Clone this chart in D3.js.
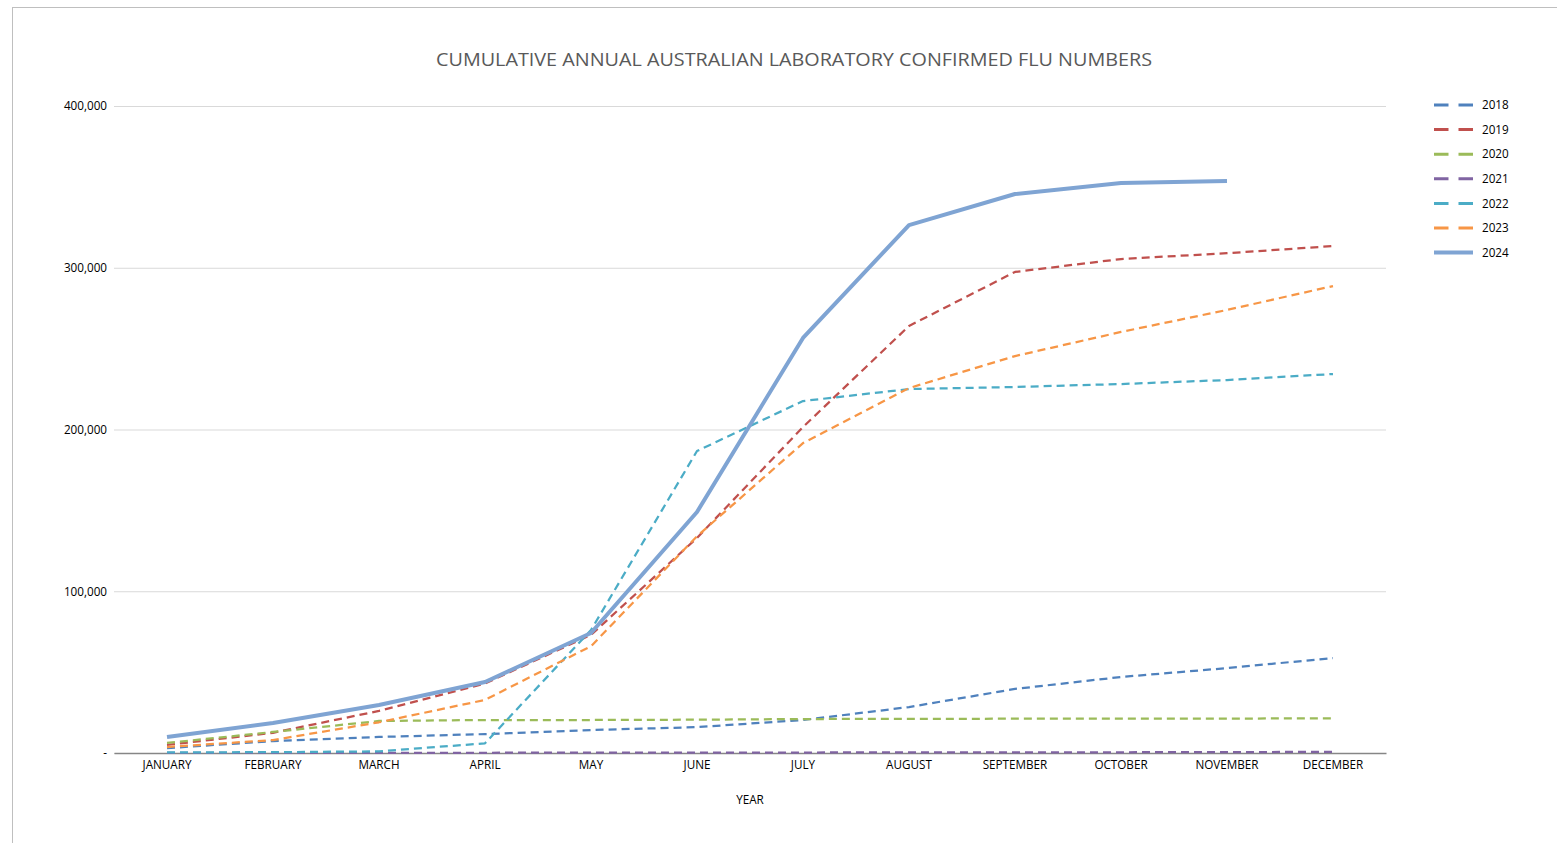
<!DOCTYPE html>
<html>
<head>
<meta charset="utf-8">
<script src="https://cdn.jsdelivr.net/npm/d3@7"></script>
<style>
  body { margin: 0; background: #fff; }
  svg { display: block; }
</style>
</head>
<body>
<script>
// months on the x axis
const months = ["JANUARY", "FEBRUARY", "MARCH", "APRIL", "MAY", "JUNE", "JULY",
  "AUGUST", "SEPTEMBER", "OCTOBER", "NOVEMBER", "DECEMBER"];

// cumulative counts
const y2018 = [3000, 7400, 9900, 11700, 14200, 16000, 20400, 28400, 39600, 47000, 52500, 58700];
const y2019 = [5000, 12500, 26000, 43000, 73000, 133000, 201500, 264000, 297400, 305400, 309000, 313400];
const y2020 = [6200, 13000, 19800, 20400, 20400, 20600, 21000, 21100, 21200, 21300, 21300, 21400];
const y2021 = [50, 80, 100, 150, 200, 250, 300, 350, 400, 450, 550, 700];
const y2022 = [400, 500, 1000, 6000, 76000, 186700, 217600, 225000, 226300, 228100, 230600, 234300];
const y2023 = [3700, 8000, 19000, 32800, 66000, 134000, 191600, 225600, 245400, 260300, 273900, 288700];
const y2024 = [9900, 18500, 29700, 43900, 74200, 149000, 256600, 326400, 345600, 352400, 353600];

const yTicks = [0, 100000, 200000, 300000, 400000];

const series = [
  { name: "2018", values: y2018, color: "#4F81BD", dash: true },
  { name: "2019", values: y2019, color: "#C0504D", dash: true },
  { name: "2020", values: y2020, color: "#9BBB59", dash: true },
  { name: "2021", values: y2021, color: "#8064A2", dash: true },
  { name: "2022", values: y2022, color: "#4BACC6", dash: true },
  { name: "2023", values: y2023, color: "#F79646", dash: true },
  { name: "2024", values: y2024, color: "#7FA4D3", dash: false }
];

const W = 1557, H = 843;
const margin = { top: 106, left: 114, right: 171, bottom: 90 };
const width = W - margin.left - margin.right,
  height = H - margin.top - margin.bottom;
const font = "'Open Sans', sans-serif";

const svg = d3.select("body").append("svg")
  .attr("width", W)
  .attr("height", H);

// outer chart frame (runs off the right and bottom edges)
svg.append("rect")
  .attr("x", 12.5).attr("y", 7.5)
  .attr("width", W).attr("height", 900)
  .attr("fill", "none")
  .attr("stroke", "#bfbfbf");

svg.append("text")
  .attr("x", 794).attr("y", 66)
  .attr("text-anchor", "middle")
  .style("font-family", font)
  .style("font-size", "18px")
  .attr("textLength", 716)
  .attr("lengthAdjust", "spacingAndGlyphs")
  .style("fill", "#595959")
  .text("CUMULATIVE ANNUAL AUSTRALIAN LABORATORY CONFIRMED FLU NUMBERS");

const g = svg.append("g")
  .attr("transform", "translate(" + margin.left + "," + margin.top + ")");

const x = d3.scaleBand()
  .domain(months)
  .range([0, width]);

const y = d3.scaleLinear()
  .domain([0, 400000])
  .range([height, 0]);

// gridlines + y labels
const yAxis = g.append("g")
  .call(d3.axisLeft(y)
    .tickValues(yTicks)
    .tickSize(-width)
    .tickPadding(7)
    .tickFormat(d => d === 0 ? "-" : d3.format(",")(d)));
yAxis.select(".domain").remove();
yAxis.selectAll(".tick line").attr("stroke", "#d9d9d9").attr("stroke-width", 1);
yAxis.selectAll(".tick text")
  .style("font-family", font)
  .style("font-size", "11.7px")
  .style("fill", "#000");

// x axis
const xAxis = g.append("g")
  .attr("transform", "translate(0," + height + ")")
  .call(d3.axisBottom(x).tickSize(0).tickPadding(8));
xAxis.select(".domain").attr("stroke", "#868686").attr("stroke-width", 1.5);
xAxis.selectAll(".tick text")
  .style("font-family", font)
  .style("font-size", "11.7px")
  .style("fill", "#000");

g.append("text")
  .attr("x", width / 2)
  .attr("y", height + 51)
  .attr("text-anchor", "middle")
  .style("font-family", font)
  .style("font-size", "11.7px")
  .text("YEAR");

const line = d3.line()
  .x((d, i) => x(months[i]) + x.bandwidth() / 2)
  .y(d => y(d));

g.append("g")
  .selectAll("path")
  .data(series)
  .enter()
  .append("path")
  .attr("d", d => line(d.values))
  .attr("fill", "none")
  .attr("stroke", d => d.color)
  .attr("stroke-width", d => d.dash ? 2.25 : 4)
  .attr("stroke-dasharray", d => d.dash ? "8,5" : null)
  .attr("stroke-linejoin", "round");

// legend
const legend = svg.append("g")
  .attr("transform", "translate(1434,105)");
const item = legend.selectAll("g")
  .data(series)
  .enter()
  .append("g")
  .attr("transform", (d, i) => "translate(0," + i * 24.6 + ")");
item.append("line")
  .attr("x1", 0).attr("x2", 39)
  .attr("stroke", d => d.color)
  .attr("stroke-width", d => d.dash ? 3 : 4)
  .attr("stroke-dasharray", d => d.dash ? "14.5,10" : null);
item.append("text")
  .attr("x", 48)
  .attr("dy", "0.35em")
  .style("font-family", font)
  .style("font-size", "11.7px")
  .text(d => d.name);
</script>
</body>
</html>
